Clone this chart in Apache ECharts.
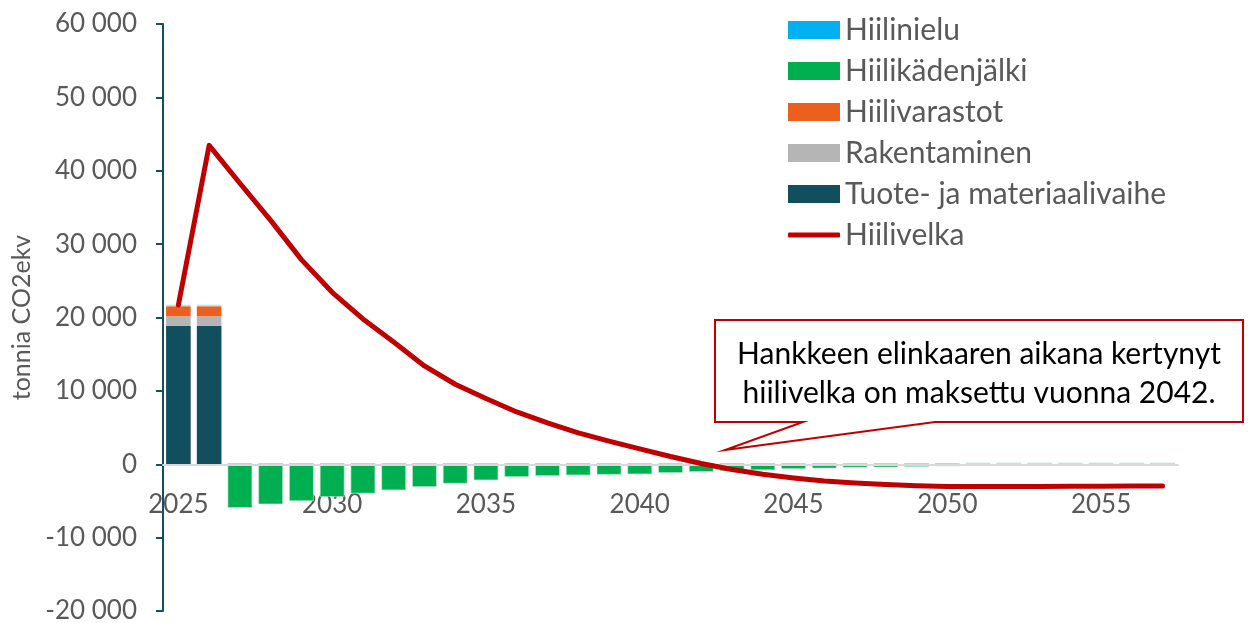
<!DOCTYPE html>
<html>
<head>
<meta charset="utf-8">
<script src="https://cdn.jsdelivr.net/npm/echarts@6/dist/echarts.min.js"></script>
<style>
html,body{margin:0;padding:0;background:#fff;}
#chart{width:1248px;height:623px;}
</style>
</head>
<body>
<div id="chart"></div>
<script>
const years = [];
for (let y = 2025; y <= 2057; y++) years.push(String(y));

const tuote = [18850, 18850, 0,0,0,0,0,0,0,0,0,0,0,0,0,0,0,0,0,0,0,0,0,0,0,0,0,0,0,0,0,0,0];
const rakentaminen = [1320, 1320, 0,0,0,0,0,0,0,0,0,0,0,0,0,0,0,0,0,0,0,0,0,0,0,0,0,0,0,0,0,0,0];
const hiilivarastot = [1360, 1360, 0,0,0,0,0,0,0,0,0,0,0,0,0,0,0,0,0,0,0,0,0,0,0,0,0,0,0,0,0,0,0];
const hiilinielu = [150,150,150,150,150,150,150,150,150,150,150,150,150,150,150,150,150,150,150,150,150,150,150,150,150,150,150,150,150,150,150,150,150];
const kadenjalki = [0, 0,
  -5950,-5450,-5000,-4450,-3990,-3540,-3090,-2630,-2180,-1730,
  -1590,-1500,-1420,-1360,-1180,-1040,-930,-800,-640,-550,
  -450,-420,-360,-280,0,0,0,0,0,0,0];
const hiilivelka = [21700, 43460, 38300, 33240, 27890, 23430, 19800, 16660, 13400, 10900,
  8950, 7130, 5630, 4270, 3150, 2100, 1050, 100, -720, -1360,
  -1860, -2270, -2560, -2760, -2920, -3040, -3040, -3030, -3020, -3000,
  -2990, -2970, -2950];

const noteLines = ['Hankkeen elinkaaren aikana kertynyt', 'hiilivelka on maksettu vuonna 2042.'];

const FONT = 'Lato, "Open Sans", sans-serif';
const GREY = '#595959';

function fmt(v) {
  if (v === 0) return '0';
  const s = v < 0 ? '-' : '';
  const a = Math.abs(v);
  return s + Math.floor(a / 1000) + ' ' + String(a % 1000).padStart(3, '0');
}

const chart = echarts.init(document.getElementById('chart'), null, {renderer: 'canvas'});

const barBase = {type: 'bar', stack: 'total', barCategoryGap: '20%', xAxisIndex: 0};

const option = {
  animation: false,
  textStyle: {fontFamily: FONT},
  grid: {left: 163, right: 70, top: 24, bottom: 12, containLabel: false, outerBoundsMode: 'none'},
  legend: [{
    orient: 'vertical',
    left: 788,
    top: 15,
    padding: 0,
    itemWidth: 52,
    itemHeight: 18,
    itemGap: 11,
    textStyle: {fontFamily: FONT, fontSize: 30, color: GREY},
    data: [
      {name: 'Hiilinielu', icon: 'rect', itemStyle: {color: '#00b0f0'}},
      {name: 'Hiilikädenjälki', icon: 'rect', itemStyle: {borderWidth: 0}},
      {name: 'Hiilivarastot', icon: 'rect'},
      {name: 'Rakentaminen', icon: 'rect'},
      {name: 'Tuote- ja materiaalivaihe', icon: 'rect'}
    ]
  }, {
    orient: 'vertical',
    left: 788,
    top: 220,
    padding: 0,
    itemWidth: 52,
    itemHeight: 5,
    textStyle: {fontFamily: FONT, fontSize: 30, color: GREY},
    data: [{name: 'Hiilivelka', icon: 'roundRect'}]
  }],
  xAxis: [{
    type: 'category',
    data: years,
    axisLine: {onZero: true, lineStyle: {color: '#d9d9d9', width: 2}},
    axisTick: {show: false},
    axisLabel: {show: false},
    z: 5
  }, {
    type: 'category',
    data: years,
    position: 'bottom',
    offset: -147,
    axisLine: {show: false, onZero: false},
    axisTick: {show: false},
    axisLabel: {interval: 4, margin: 28, fontSize: 26, color: GREY, fontFamily: FONT}
  }],
  yAxis: {
    type: 'value',
    min: -20000,
    max: 60000,
    interval: 10000,
    name: 'tonnia CO2ekv',
    nameLocation: 'middle',
    nameGap: 127,
    nameTextStyle: {fontSize: 25, color: GREY, fontFamily: FONT},
    axisLine: {show: true, lineStyle: {color: '#12505f', width: 2}},
    axisTick: {show: true, length: 7, lineStyle: {color: '#12505f', width: 2}},
    axisLabel: {margin: 26, fontSize: 26, color: GREY, fontFamily: FONT, formatter: fmt},
    splitLine: {show: false}
  },
  series: [
    Object.assign({}, barBase, {name: 'Tuote- ja materiaalivaihe', data: tuote, itemStyle: {color: '#124f5e'}}),
    Object.assign({}, barBase, {name: 'Rakentaminen', data: rakentaminen, itemStyle: {color: '#b5b5b5'}}),
    Object.assign({}, barBase, {name: 'Hiilivarastot', data: hiilivarastot, itemStyle: {color: '#ec5f1d'}}),
    Object.assign({}, barBase, {name: 'Hiilinielu', data: hiilinielu, itemStyle: {color: '#9fd3e6'}}),
    Object.assign({}, barBase, {name: 'Hiilikädenjälki', data: kadenjalki, itemStyle: {color: '#00b050', borderColor: '#c9ead6', borderWidth: 0.6}}),
    {
      name: 'Hiilivelka',
      type: 'line',
      xAxisIndex: 0,
      data: hiilivelka,
      symbol: 'none',
      smooth: false,
      z: 10,
      lineStyle: {color: '#c00000', width: 5, cap: 'round', join: 'round'},
      itemStyle: {color: '#c00000'}
    }
  ],
  graphic: [
    {
      type: 'polygon',
      z: 100,
      shape: {points: [[715,320],[1243,320],[1243,422],[935,422],[725,450],[803,422],[715,422]]},
      style: {fill: '#ffffff', stroke: '#c00000', lineWidth: 2}
    },
    {
      type: 'text',
      z: 101,
      x: 979, y: 335,
      style: {
        text: noteLines.join('\n'),
        align: 'center',
        verticalAlign: 'top',
        fill: '#000000',
        font: '30px ' + FONT,
        lineHeight: 39
      }
    }
  ]
};
chart.setOption(option);
</script>
</body>
</html>
